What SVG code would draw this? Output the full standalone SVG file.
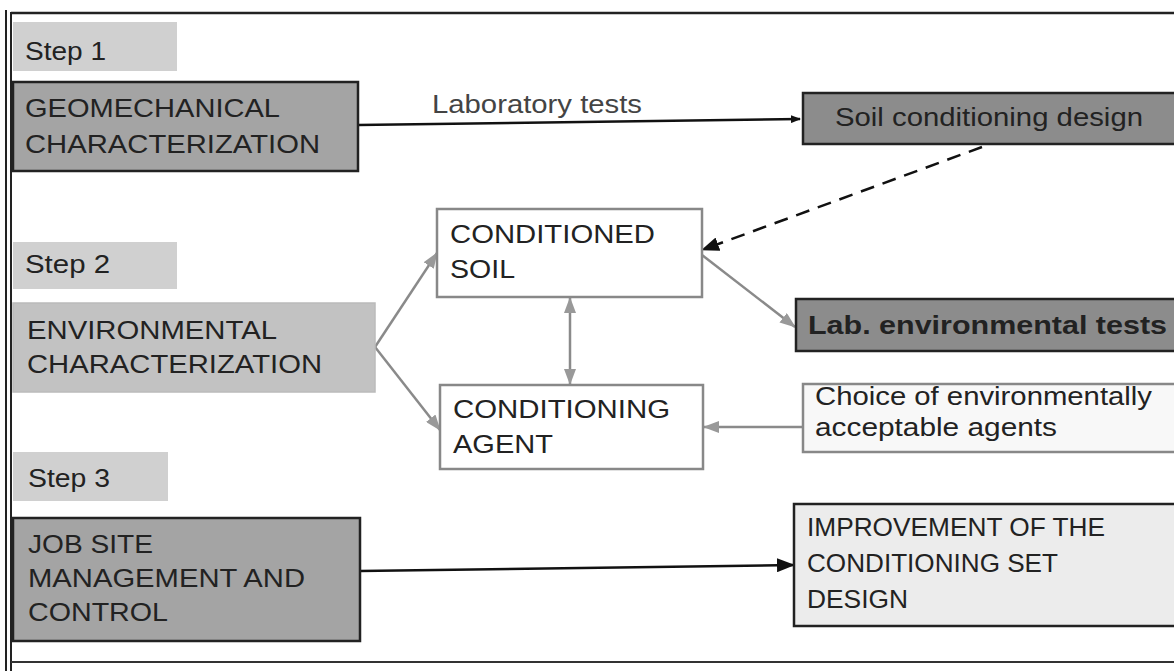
<svg xmlns="http://www.w3.org/2000/svg" width="1174" height="671" viewBox="0 0 1174 671">
<style>
text{font-family:"Liberation Sans",Arial,sans-serif;font-size:26px;fill:#222}
.step{fill:#d0d0d0}
.dark{fill:#a4a4a4;stroke:#222;stroke-width:2.5}
.darker{fill:#8c8c8c;stroke:#222;stroke-width:2.5}
.mid{fill:#c2c2c2;stroke:#bbb;stroke-width:1.5}
.white{fill:#fff;stroke:#888;stroke-width:2.5}
.light{fill:#ececec;stroke:#222;stroke-width:2.5}
.k{stroke:#111;stroke-width:2.5;fill:none}
.g{stroke:#8a8a8a;stroke-width:2.5;fill:none}
</style>
<defs>
<marker id="ak" markerWidth="10" markerHeight="8" refX="9" refY="4" orient="auto" markerUnits="userSpaceOnUse"><path d="M0,0L10,4L0,8z" fill="#111"/></marker>
<marker id="akb" markerWidth="18" markerHeight="14" refX="17" refY="7" orient="auto" markerUnits="userSpaceOnUse"><path d="M0,0L18,7L0,14z" fill="#111"/></marker>
<marker id="ag" markerWidth="16" markerHeight="12" refX="15" refY="6" orient="auto-start-reverse" markerUnits="userSpaceOnUse"><path d="M0,0L16,6L0,12z" fill="#999"/></marker>
</defs>
<rect width="1174" height="671" fill="#fff"/>
<g id="frame">
<line x1="6" y1="10" x2="6" y2="671" stroke="#222" stroke-width="2"/>
<line x1="11" y1="12" x2="11" y2="671" stroke="#222" stroke-width="2"/>
<line x1="11" y1="13" x2="1174" y2="13" stroke="#222" stroke-width="2.5"/>
<line x1="11" y1="662" x2="1174" y2="662" stroke="#333" stroke-width="2"/>
</g>
<g id="connectors">
<line class="k" x1="358" y1="125" x2="800" y2="119" marker-end="url(#ak)"/>
<text x="432" y="113" style="fill:#444" textLength="210" lengthAdjust="spacingAndGlyphs">Laboratory tests</text>
<line class="k" x1="982" y1="147" x2="702" y2="250" stroke-dasharray="14,9" marker-end="url(#akb)"/>
<line class="g" x1="375" y1="347" x2="437" y2="253" marker-end="url(#ag)"/>
<line class="g" x1="375" y1="347" x2="440" y2="430" marker-end="url(#ag)"/>
<line class="g" x1="570" y1="298" x2="570" y2="384" marker-start="url(#ag)" marker-end="url(#ag)"/>
<line class="g" x1="702" y1="255" x2="795" y2="327" marker-end="url(#ag)"/>
<line class="g" x1="803" y1="427" x2="704" y2="427" stroke-width="3.5" marker-end="url(#ag)"/>
<line class="k" x1="360" y1="571" x2="794" y2="565" marker-end="url(#akb)"/>
</g>
<g id="step1"><rect class="step" x="13" y="22" width="164" height="49"/><text x="25" y="60" textLength="81" lengthAdjust="spacingAndGlyphs">Step 1</text></g>
<g id="geomech"><rect class="dark" x="13" y="82" width="345" height="89"/><text x="25" y="117" textLength="255" lengthAdjust="spacingAndGlyphs">GEOMECHANICAL</text><text x="25" y="153" textLength="295" lengthAdjust="spacingAndGlyphs">CHARACTERIZATION</text></g>
<g id="soildesign"><rect class="darker" x="803" y="93" width="380" height="51"/><text x="835" y="126" textLength="308" lengthAdjust="spacingAndGlyphs">Soil conditioning design</text></g>
<g id="step2"><rect class="step" x="13" y="242" width="164" height="47"/><text x="25" y="273" textLength="85" lengthAdjust="spacingAndGlyphs">Step 2</text></g>
<g id="environ"><rect class="mid" x="13" y="303" width="362" height="89"/><text x="27" y="339" textLength="250" lengthAdjust="spacingAndGlyphs">ENVIRONMENTAL</text><text x="27" y="373" textLength="295" lengthAdjust="spacingAndGlyphs">CHARACTERIZATION</text></g>
<g id="condsoil"><rect class="white" x="437" y="209" width="265" height="88"/><text x="450" y="243" textLength="205" lengthAdjust="spacingAndGlyphs">CONDITIONED</text><text x="450" y="278" textLength="65" lengthAdjust="spacingAndGlyphs">SOIL</text></g>
<g id="condagent"><rect class="white" x="440" y="385" width="263" height="84"/><text x="453" y="418" textLength="217" lengthAdjust="spacingAndGlyphs">CONDITIONING</text><text x="453" y="453" textLength="100" lengthAdjust="spacingAndGlyphs">AGENT</text></g>
<g id="labtests"><rect class="darker" x="796" y="299" width="390" height="52"/><text x="808" y="334" style="font-weight:bold" textLength="359" lengthAdjust="spacingAndGlyphs">Lab. environmental tests</text></g>
<g id="choice"><rect class="white" x="803" y="384" width="385" height="68" style="fill:#f8f8f8"/><text x="815" y="405" textLength="337" lengthAdjust="spacingAndGlyphs">Choice of environmentally</text><text x="815" y="436" textLength="242" lengthAdjust="spacingAndGlyphs">acceptable agents</text></g>
<g id="step3"><rect class="step" x="13" y="452" width="155" height="49"/><text x="28" y="487" textLength="82" lengthAdjust="spacingAndGlyphs">Step 3</text></g>
<g id="jobsite"><rect class="dark" x="13" y="518" width="347" height="123"/><text x="28" y="553" textLength="125" lengthAdjust="spacingAndGlyphs">JOB SITE</text><text x="28" y="587" textLength="277" lengthAdjust="spacingAndGlyphs">MANAGEMENT AND</text><text x="28" y="621" textLength="140" lengthAdjust="spacingAndGlyphs">CONTROL</text></g>
<g id="improve"><rect class="light" x="794" y="504" width="392" height="122"/><text x="807" y="536" textLength="298" lengthAdjust="spacingAndGlyphs">IMPROVEMENT OF THE</text><text x="807" y="572" textLength="251" lengthAdjust="spacingAndGlyphs">CONDITIONING SET</text><text x="807" y="608" textLength="101" lengthAdjust="spacingAndGlyphs">DESIGN</text></g>
</svg>
